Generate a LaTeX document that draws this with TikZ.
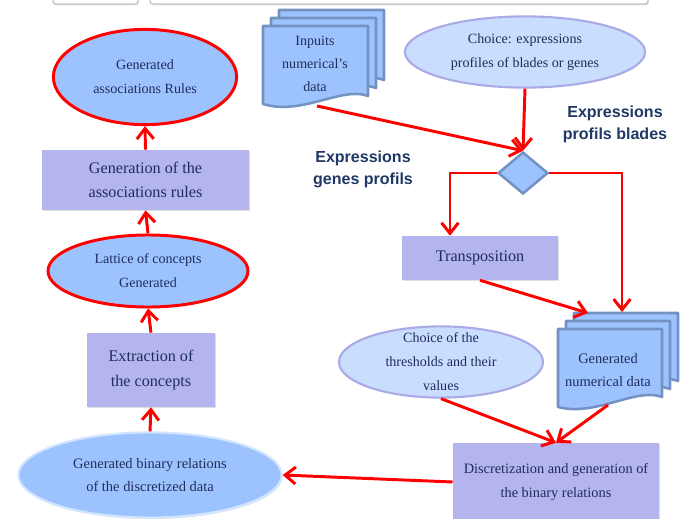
\documentclass[tikz,border=0pt]{standalone}
\usepackage{fontspec}
\setmainfont{Liberation Serif}
\newfontfamily\labelfont{Liberation Sans}
\usetikzlibrary{positioning, arrows.meta, shapes.geometric, shadows}

\definecolor{navytext}{HTML}{1F2D5C}
\definecolor{labelblue}{HTML}{1F3864}
\definecolor{bluefill}{HTML}{9DC3FF}
\definecolor{palefill}{HTML}{C9DDFF}
\definecolor{lavender}{HTML}{B4B4EE}
\definecolor{lavline}{HTML}{AAAAE6}
\definecolor{binline}{HTML}{D2E6FF}
\definecolor{steel}{HTML}{7392C2}

\tikzset{
  flow/.style={line width=2.1pt, red, -{Straight Barb[length=7.5pt,width=12pt]}},
  softshadow/.style={drop shadow={opacity=0.25, shadow xshift=0.6pt, shadow yshift=-1pt}},
  ovaltext/.style={text=navytext, align=center, font=\fontsize{10}{17}\selectfont},
  procbox/.style={rectangle, fill=lavender, softshadow, text=navytext, align=center, font=\fontsize{11.5}{17.5}\selectfont},
  result/.style={ellipse, fill=bluefill, draw=red, line width=2.1pt, softshadow, label={[ovaltext]center:#1}},
  option/.style={ellipse, fill=palefill, draw=lavline, line width=1.5pt, label={[ovaltext]center:#1}},
  page/.style={fill=bluefill, draw=steel, line width=1.8pt, line join=round},
  branch/.style={text=labelblue, align=center, font=\labelfont\bfseries\fontsize{11.4}{15.6}\selectfont}
}

\begin{document}
\begin{tikzpicture}[x=0.025cm, y=-0.025cm]
    \useasboundingbox (0,0) rectangle (697,519);
    % frames cut at the top
    \draw [gray!45, line width=1pt, fill=white, rounded corners=2pt, softshadow] (53,-12) rectangle (138,4);
    \draw [gray!45, line width=1pt, fill=white, rounded corners=2pt, softshadow] (150,-12) rectangle (648,4);

    % left column
    \node (rules) at (145,77) [result={Generated\\associations Rules}, minimum width=4.58cm, minimum height=2.38cm] {};
    \node (genrules) at (145.5,180) [procbox, minimum width=5.18cm, minimum height=1.5cm] {Generation of the\\associations rules};
    \node (lattice) at (148,271) [result={Lattice of concepts\\Generated}, minimum width=5cm, minimum height=1.8cm] {};
    \node (extract) at (151,370) [procbox, minimum width=3.2cm, minimum height=1.85cm] {Extraction of\\the concepts};
    \node (binrel) at (150,475) [ellipse, fill=bluefill, draw=binline, line width=1.5pt, softshadow, minimum width=6.58cm, minimum height=2.13cm, label={[ovaltext, font=\fontsize{10.3}{17}\selectfont]center:Generated binary relations\\of the discretized data}] {};

    % input documents
    \foreach \d in {16,8,0}
        \draw [page] (263+\d,26-\d) -- (368+\d,26-\d) -- (368+\d,96-\d) .. controls (342+\d,86-\d) and (302+\d,116-\d) .. (263+\d,104-\d) -- cycle;
    \node (inputs) at (315,64) [ovaltext, font=\fontsize{10}{16.5}\selectfont] {Inpuits\\numerical's\\data};
    \coordinate (inputs-foot) at (317,106);

    \node (choice) at (525,52) [option={Choice: expressions\\profiles of blades or genes}, minimum width=6cm, minimum height=1.78cm] {};
    \node (dia) at (523,173) [diamond, fill=bluefill, draw=steel, line width=1.8pt, minimum width=1.25cm, minimum height=1.05cm, inner sep=0pt] {};
    \node (blades) at (615,124) [branch] {Expressions\\profils blades};
    \node (genes) at (363,169) [branch] {Expressions\\genes profils};

    \node (transpo) at (480,258) [procbox, minimum width=3.9cm, minimum height=1.1cm] {Transposition};

    % generated documents
    \foreach \d in {16,8,0}
        \draw [page] (558+\d,329-\d) -- (662+\d,329-\d) -- (662+\d,397-\d) .. controls (636+\d,387-\d) and (596+\d,417-\d) .. (558+\d,407-\d) -- cycle;
    \node (gendata) at (608,370) [ovaltext, font=\fontsize{10.3}{17}\selectfont] {Generated\\numerical data};
    \coordinate (gendata-top) at (622,312);
    \coordinate (gendata-nw) at (588,313);
    \coordinate (gendata-foot) at (608,405);

    \node (thresh) at (441,362) [option={Choice of the\\thresholds and their\\values}, minimum width=5.1cm, minimum height=1.78cm] {};
    \node (discret) at (556,482) [procbox, font=\fontsize{10.2}{17.5}\selectfont, minimum width=5.15cm, minimum height=1.95cm] {Discretization and generation of\\the binary relations};

    % connectors
    \draw [flow] (inputs-foot) -- (dia.north);
    \draw [flow] (choice.south) -- (dia.north);
    \draw [flow] (dia.west) -| ([xshift=-0.75cm]transpo.north);
    \draw [flow] (dia.east) -| (gendata-top);
    \draw [flow] (transpo.south) -- (gendata-nw);
    \draw [flow] (thresh.south) -- (discret.north);
    \draw [flow] (gendata-foot) -- (discret.north);
    \draw [flow] (discret.west) -- (binrel.east);
    \draw [flow] (binrel.north) -- (extract.south);
    \draw [flow] (extract.north) -- (lattice.south);
    \draw [flow] (lattice.north) -- (genrules.south);
    \draw [flow] (genrules.north) -- (rules.south);
\end{tikzpicture}
\end{document}
